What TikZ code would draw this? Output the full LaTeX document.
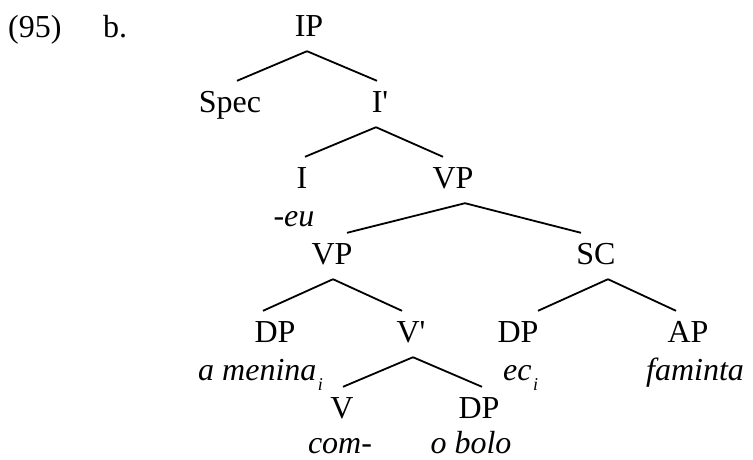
\documentclass[tikz,border=0pt]{standalone}
\usepackage{fontspec}
\setmainfont{Liberation Serif}
\newcommand\sbi{\hspace{1.5pt}\raisebox{-10pt}{\fontsize{18}{18}\selectfont\itshape i}}
\begin{document}
\begin{tikzpicture}[x=1pt,y=-1pt,
  cat/.style={anchor=base, font=\fontsize{32}{38}\selectfont, inner xsep=0pt, inner ysep=10pt, text height=21pt, text depth=5pt},
  gl/.style={anchor=base, font=\fontsize{32}{38}\selectfont\itshape, inner sep=0pt},
  lab/.style={anchor=base west, font=\fontsize{32}{38}\selectfont, inner sep=0pt},
  br/.style={line width=1.8pt}]
\useasboundingbox (0,0) rectangle (753,459);
% labels
\node[lab] (ex) at (8,37) {(95)};
\node[lab] (b) at (103,37) {b.};
% categories
\node[cat] (IP) at (309,36) {IP};
\node[cat] (Spec) at (230,112) {Spec};
\node[cat] (I1) at (380,112) {I\textquotesingle};
\node[cat] (I) at (302,188) {I};
\node[cat] (VP1) at (453,188) {VP};
\node[cat] (VP2) at (332,264) {VP};
\node[cat] (SC) at (596,264) {SC};
\node[cat] (DP1) at (275,342) {DP};
\node[cat] (V1) at (411,342) {V\textquotesingle};
\node[cat] (DP2) at (518,342) {DP};
\node[cat] (AP) at (688,342) {AP};
\node[cat] (V) at (342,418) {V};
\node[cat] (DP3) at (479,418) {DP};
% glosses
\node[gl] (eu) at (294,226) {-eu};
\node[gl, anchor=base west] (men) at (198,380) {a menina\sbi};
\node[gl, anchor=base west] (ec) at (503,380) {ec\sbi};
\node[gl] (fam) at (695,380) {faminta};
\node[gl] (com) at (340,453) {com-};
\node[gl] (bolo) at (471,453) {o bolo};
% branches
\draw[br] ([xshift=-2pt]IP.south) -- ([xshift=7pt]Spec.north);
\draw[br] ([xshift=-2pt]IP.south) -- ([xshift=-3pt]I1.north);
\draw[br] ([xshift=-4pt]I1.south) -- ([xshift=3pt]I.north);
\draw[br] ([xshift=-4pt]I1.south) -- ([xshift=-10pt]VP1.north);
\draw[br] ([xshift=12pt]VP1.south) -- ([xshift=15pt]VP2.north);
\draw[br] ([xshift=12pt]VP1.south) -- ([xshift=-15pt]SC.north);
\draw[br] ([xshift=1pt]VP2.south) -- ([xshift=-12pt]DP1.north);
\draw[br] ([xshift=1pt]VP2.south) -- ([xshift=-9pt]V1.north);
\draw[br] ([xshift=12pt]SC.south) -- ([xshift=20pt]DP2.north);
\draw[br] ([xshift=12pt]SC.south) -- ([xshift=-12pt]AP.north);
\draw[br] ([xshift=2pt]V1.south) -- ([xshift=1pt]V.north);
\draw[br] ([xshift=2pt]V1.south) -- ([xshift=3pt]DP3.north);
\end{tikzpicture}
\end{document}
